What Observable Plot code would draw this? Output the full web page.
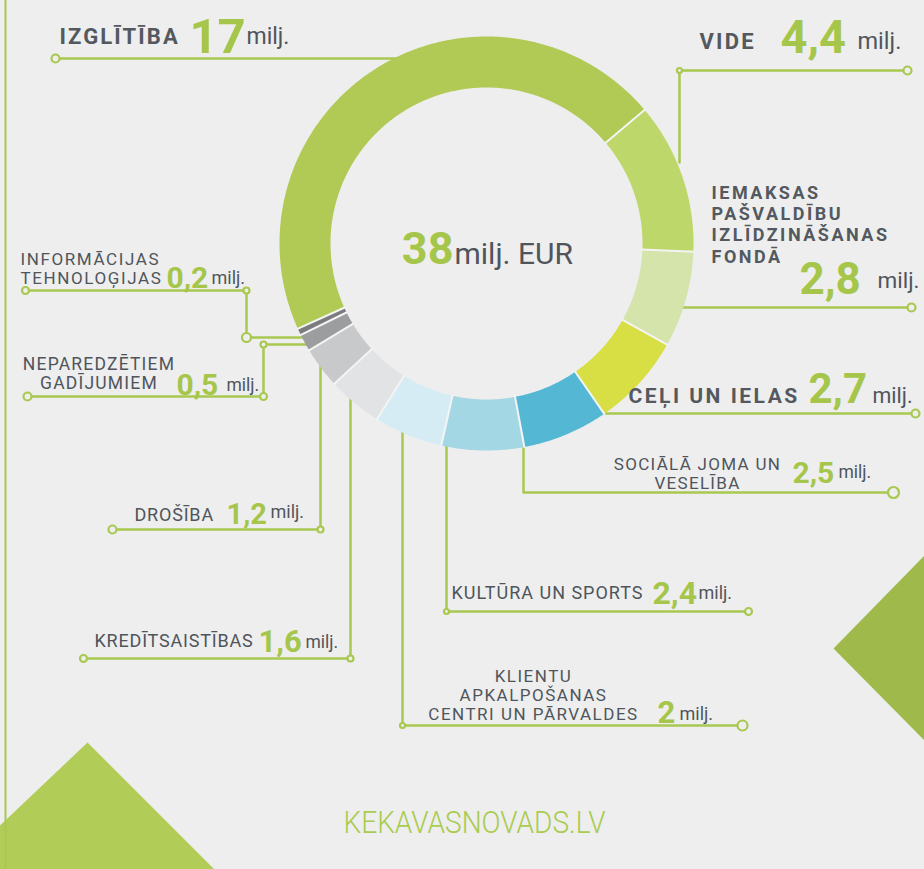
<!DOCTYPE html>
<html>
<head>
<meta charset="utf-8">
<script src="https://cdn.jsdelivr.net/npm/d3@7"></script>
<script src="https://cdn.jsdelivr.net/npm/@observablehq/plot@0.6"></script>
<style>
html, body { margin: 0; padding: 0; background: #eeeeee; }
#chart svg { display: block; }
</style>
</head>
<body>
<div id="chart"></div>
<script>
// ---------------- DATA ----------------
const categories = [
  "IZGLĪTĪBA",
  "VIDE",
  "IEMAKSAS\nPAŠVALDĪBU\nIZLĪDZINĀŠANAS\nFONDĀ",
  "CEĻI UN IELAS",
  "SOCIĀLĀ JOMA UN\nVESELĪBA",
  "KULTŪRA UN SPORTS",
  "KLIENTU\nAPKALPOŠANAS\nCENTRI UN PĀRVALDES",
  "KREDĪTSAISTĪBAS",
  "DROŠĪBA",
  "NEPAREDZĒTIEM\nGADĪJUMIEM",
  "INFORMĀCIJAS\nTEHNOLOĢIJAS"
];
const values = [17, 4.4, 2.8, 2.7, 2.5, 2.4, 2, 1.6, 1.2, 0.5, 0.2];
const valueLabels = ["17", "4,4", "2,8", "2,7", "2,5", "2,4", "2", "1,6", "1,2", "0,5", "0,2"];
const unitLabel = "milj.";
const totalLabel = "38";
const totalUnit = "milj. EUR";
const footerText = "KEKAVASNOVADS.LV";
const sliceColors = ["#b0ca55", "#bed76b", "#d4e4ab", "#d8df45", "#54b8d5", "#a4d7e4",
                     "#d6ecf4", "#e2e3e4", "#c8c9cb", "#9c9d9f", "#7c7c80"];

// ---------------- LAYOUT / STYLE ----------------
const W = 924, H = 869;
const BG = "#eeeeee";
const GREEN = "#a8c850";
const NUMGREEN = "#a5c64b";
const DARK = "#53595f";
const GREY = "#4f555b";
const donut = {cx: 486, cy: 243, ro: 207, ri: 156, startDeg: 245.7};

// per-category label placement
const labelLayout = [
  {lx: 59, ly: 43, anchor: "start", size: 22, bold: true, ls: 2.1, lh: 1,
   nx: 189, ny: 52, ns: 49, mx: 246, my: 43, ms: 23,
   path: [[55, 58], [405, 58]], dots: [[55, 58, 4]]},
  {lx: 699, ly: 48, anchor: "start", size: 22, bold: true, ls: 2.2, lh: 1,
   nx: 780, ny: 52, ns: 47, mx: 857, my: 48, ms: 23.5,
   path: [[907, 70], [679, 70], [679, 162]], dots: [[907, 70, 4], [679, 70, 2.5]]},
  {lx: 711, ly: 262, anchor: "start", size: 18, bold: true, ls: 2.5, lh: 1.17,
   nx: 799, ny: 293, ns: 44, mx: 877, my: 287, ms: 22.5,
   path: [[676, 307], [911, 307]], dots: [[911, 307, 4]]},
  {lx: 628, ly: 402, anchor: "start", size: 21, bold: true, ls: 2.5, lh: 1,
   nx: 808, ny: 402, ns: 42, mx: 872, my: 402, ms: 21.5,
   path: [[600, 413], [915, 413]], dots: [[915, 413, 4]]},
  {lx: 697, ly: 488, anchor: "middle", size: 17, bold: false, ls: 1.3, lh: 1.09,
   nx: 792, ny: 482, ns: 30, mx: 838, my: 477, ms: 17.5,
   path: [[523, 440], [523, 492], [893, 492]], dots: [[893, 492, 5.5]]},
  {lx: 451, ly: 598, anchor: "start", size: 18, bold: false, ls: 1.0, lh: 1,
   nx: 652, ny: 603, ns: 32, mx: 698, my: 598, ms: 18,
   path: [[446, 440], [446, 611], [748, 611]], dots: [[446, 611, 2.5], [748, 611, 3.5]]},
  {lx: 533, ly: 719, anchor: "middle", size: 17, bold: false, ls: 1.5, lh: 1.09,
   nx: 657, ny: 722, ns: 31, mx: 679, my: 719, ms: 18,
   path: [[402, 425], [402, 725], [742, 725]], dots: [[402, 725, 2.5], [742, 725, 5]]},
  {lx: 94, ly: 646, anchor: "start", size: 18, bold: false, ls: 0.8, lh: 1,
   nx: 258, ny: 651, ns: 31, mx: 305, my: 647, ms: 17.5,
   path: [[350, 395], [350, 658], [83, 658]], dots: [[350, 658, 3], [83, 658, 3.5]]},
  {lx: 134, ly: 520, anchor: "start", size: 18, bold: false, ls: 0.8, lh: 1,
   nx: 226, ny: 523, ns: 29, mx: 270, my: 517, ms: 18,
   path: [[320, 365], [320, 529], [112, 529]], dots: [[320, 529, 3], [112, 529, 4]]},
  {lx: 98.5, ly: 388, anchor: "middle", size: 17.5, bold: false, ls: 1.2, lh: 1.05,
   nx: 176, ny: 394, ns: 30, mx: 226, my: 390, ms: 17.5,
   path: [[312, 344], [263, 344], [263, 396], [27, 396]], dots: [[263, 344, 3], [263, 396, 3.5], [27, 396, 4]]},
  {lx: 20, ly: 283, anchor: "start", size: 17, bold: false, ls: 1.6, lh: 1.06,
   nx: 166, ny: 287, ns: 30, mx: 211, my: 283, ms: 18,
   path: [[312, 337], [246, 337], [246, 290], [25, 290]], dots: [[246, 337, 4.5], [246, 290, 3], [25, 290, 3.5]]}
];
const centerLayout = {nx: 453, ny: 263, ns: 45, mx: 454, my: 263, ms: 30};
const footerLayout = {x: 474, y: 832, size: 32, length: 262};
const triangles = [
  {name: "bl", color: "#b2cc58", pts: [[87, 742], [214, 869], [-47, 869]]},
  {name: "r", color: "#9fb94a", pts: [[924, 555], [833, 648], [924, 740]]}
];

// ---------------- BUILD ----------------
const slices = categories.map((c, i) => ({name: c, value: values[i], color: sliceColors[i], i}));
const start = donut.startDeg * Math.PI / 180;
const arcs = d3.pie().sort(null).value(d => d.value)
  .startAngle(start).endAngle(start + 2 * Math.PI)(slices);

const px = (r, a) => donut.cx + r * Math.sin(a);
const py = (r, a) => donut.cy - r * Math.cos(a);

const ringPts = arcs.flatMap(a => {
  const n = Math.max(4, Math.ceil((a.endAngle - a.startAngle) / (Math.PI / 360)));
  const pts = [];
  for (let k = 0; k <= n; ++k) {
    const t = a.startAngle + (a.endAngle - a.startAngle) * k / n;
    pts.push({x: px(donut.ro, t), y: py(donut.ro, t)});
  }
  for (let k = n; k >= 0; --k) {
    const t = a.startAngle + (a.endAngle - a.startAngle) * k / n;
    pts.push({x: px(donut.ri, t), y: py(donut.ri, t)});
  }
  pts.push(pts[0]);
  return pts.map(p => ({...p, name: a.data.name, color: a.data.color}));
});

const leaderPts = labelLayout.flatMap((L, i) => L.path.map(([x, y]) => ({x, y, i})));
const triPts = triangles.flatMap(t => [...t.pts, t.pts[0]].map(([x, y]) => ({x, y, name: t.name, color: t.color})));

const textMarks = [];
labelLayout.forEach((L, i) => {
  textMarks.push(Plot.text([slices[i]], {
    x: () => L.lx, y: () => L.ly, text: "name",
    textAnchor: L.anchor, lineAnchor: "bottom", lineHeight: L.lh,
    fontFamily: "Roboto", fontSize: L.size, fontWeight: L.bold ? 700 : 400,
    fill: L.bold ? DARK : GREY, ariaLabel: () => "lab-" + i
  }));
  textMarks.push(Plot.text([valueLabels[i]], {
    x: () => L.nx, y: () => L.ny, text: d => d,
    textAnchor: "start", lineAnchor: "bottom",
    fontFamily: "Roboto", fontSize: L.ns, fontWeight: 700, fill: NUMGREEN
  }));
  textMarks.push(Plot.text([unitLabel], {
    x: () => L.mx, y: () => L.my, text: d => d,
    textAnchor: "start", lineAnchor: "bottom",
    fontFamily: "Roboto", fontSize: L.ms, fontWeight: 400, fill: GREY
  }));
});

const dotMarks = labelLayout.flatMap(L => L.dots.map(([x, y, r]) =>
  Plot.dot([{x, y}], {x: "x", y: "y", r, fill: BG, stroke: GREEN, strokeWidth: 2.2})));

const svg = Plot.plot({
  width: W, height: H,
  margin: 0,
  x: {domain: [0, W], range: [0, W], axis: null},
  y: {domain: [0, H], range: [0, H], axis: null},
  color: {type: "identity"},
  style: {background: BG, overflow: "hidden"},
  marks: [
    Plot.line(triPts, {x: "x", y: "y", z: "name", fill: "color", stroke: "none", curve: "linear"}),
    Plot.ruleX([5], {stroke: GREEN, strokeWidth: 2}),
    Plot.line(leaderPts, {x: "x", y: "y", z: "i", stroke: GREEN, strokeWidth: 2.5, curve: "linear"}),
    Plot.line(ringPts, {x: "x", y: "y", z: "name", fill: "color", stroke: "none", curve: "linear"}),
    Plot.link(arcs, {
      x1: a => px(donut.ri - 1, a.startAngle), y1: a => py(donut.ri - 1, a.startAngle),
      x2: a => px(donut.ro + 1, a.startAngle), y2: a => py(donut.ro + 1, a.startAngle),
      stroke: "#f4f4f4", strokeWidth: 2
    }),
    ...dotMarks,
    ...textMarks,
    Plot.text([totalLabel], {
      x: () => centerLayout.nx, y: () => centerLayout.ny, text: d => d,
      textAnchor: "end", lineAnchor: "bottom",
      fontFamily: "Roboto", fontSize: centerLayout.ns, fontWeight: 700, fill: NUMGREEN
    }),
    Plot.text([totalUnit], {
      x: () => centerLayout.mx, y: () => centerLayout.my, text: d => d,
      textAnchor: "start", lineAnchor: "bottom",
      fontFamily: "Roboto", fontSize: centerLayout.ms, fontWeight: 400, fill: GREY
    }),
    Plot.text([footerText], {
      x: () => footerLayout.x, y: () => footerLayout.y, text: d => d,
      textAnchor: "middle", lineAnchor: "bottom",
      fontFamily: "Roboto", fontSize: footerLayout.size, fontWeight: 300, fill: "#a9cb4f",
      ariaLabel: () => "footer"
    })
  ]
});

// letter spacing per label (by aria-label, falling back to matching the text)
const allTexts = Array.from(svg.querySelectorAll("text"));
labelLayout.forEach((L, i) => {
  let els = Array.from(svg.querySelectorAll(`[aria-label="lab-${i}"]`));
  if (!els.length) {
    const plain = categories[i].replace(/\n/g, "");
    els = allTexts.filter(t => t.textContent.replace(/\n/g, "") === plain);
  }
  els.forEach(el => el.setAttribute("letter-spacing", L.ls));
});
let ft = svg.querySelector('[aria-label="footer"]');
if (!ft || ft.tagName.toLowerCase() !== "text") ft = allTexts.find(t => t.textContent === footerText);
if (ft) { ft.setAttribute("textLength", footerLayout.length); ft.setAttribute("lengthAdjust", "spacingAndGlyphs"); }

document.getElementById("chart").appendChild(svg);
</script>
</body>
</html>
